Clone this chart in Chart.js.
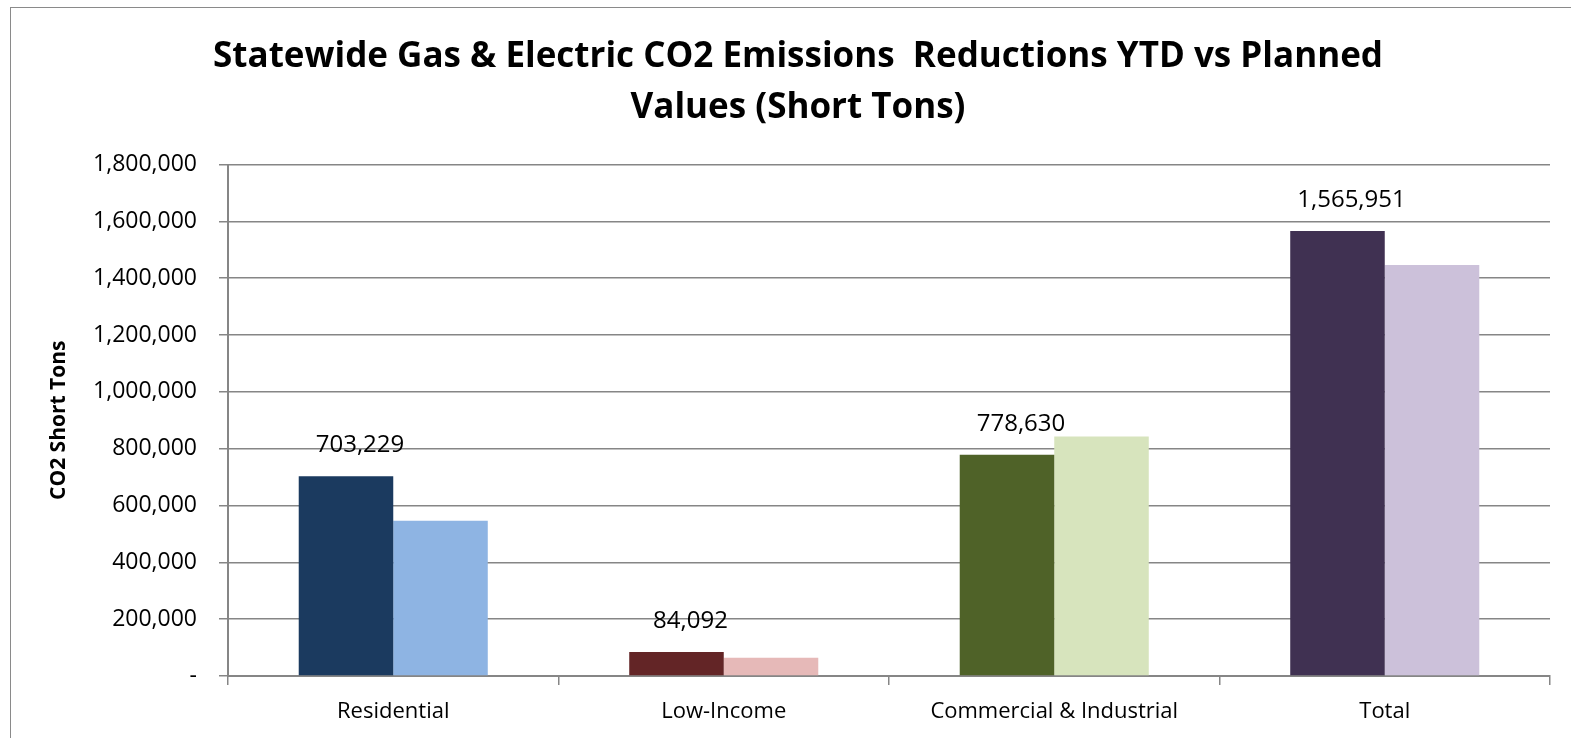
<!DOCTYPE html>
<html>
<head>
<meta charset="utf-8">
<script src="https://cdn.jsdelivr.net/npm/chart.js@4.4.0/dist/chart.umd.min.js"></script>
<style>
  html, body { margin: 0; padding: 0; background: #fff; overflow: hidden; }
  #wrap { position: relative; width: 1571px; height: 738px; }
  #frame { position: absolute; left: 10px; top: 7px; width: 2000px; height: 2000px;
           border: 1.5px solid #8a8a8a; pointer-events: none; }
  canvas { position: absolute; left: 0; top: 0; }
</style>
</head>
<body>
<div id="wrap">
  <div id="frame"></div>
  <canvas id="co2Chart" width="1571" height="738"></canvas>
</div>
<script>
// データ
var categories = ["Residential", "Low-Income", "Commercial & Industrial", "Total"];
var ytdValues = [703229, 84092, 778630, 1565951];
var plannedValues = [546000, 64000, 843000, 1446000];
var ytdColors = ["#1B3A5F", "#632526", "#4F6228", "#403152"];
var plannedColors = ["#8EB4E3", "#E6B9B8", "#D7E4BD", "#CCC1DA"];

var FONT = "'Open Sans', 'DejaVu Sans', sans-serif";

// YTDの棒の上に数値を表示するプラグイン
var valueLabelPlugin = {
  id: "valueLabels",
  afterDatasetsDraw: function (chart) {
    var ctx = chart.ctx;
    var meta = chart.getDatasetMeta(0);
    ctx.save();
    ctx.fillStyle = "#000";
    ctx.font = "24px " + FONT;
    ctx.textAlign = "center";
    ctx.textBaseline = "middle";
    meta.data.forEach(function (bar, i) {
      var txt = ytdValues[i].toLocaleString("en-US");
      ctx.fillText(txt, bar.x + 14, bar.y - 31);
    });
    ctx.restore();
  }
};

var ctx = document.getElementById("co2Chart");
var co2Chart = new Chart(ctx, {
  type: "bar",
  data: {
    labels: categories,
    datasets: [
      { label: "YTD", data: ytdValues, backgroundColor: ytdColors },
      { label: "Planned", data: plannedValues, backgroundColor: plannedColors }
    ]
  },
  options: {
    responsive: false,
    animation: false,
    layout: { padding: { left: 46, right: 21, top: 0, bottom: 0 } },
    datasets: { bar: { barPercentage: 1.0, categoryPercentage: 0.572 } },
    plugins: {
      legend: { display: false },
      tooltip: { enabled: false },
      title: {
        display: true,
        text: ["Statewide Gas & Electric CO2 Emissions  Reductions YTD vs Planned", "Values (Short Tons)"],
        color: "#000",
        font: { family: FONT, size: 35, weight: "bold", lineHeight: 1.45 },
        padding: { top: 32, bottom: 31 }
      }
    },
    scales: {
      x: {
        offset: true,
        afterFit: function (scale) { scale.height = 62; },
        grid: {
          offset: true,
          drawOnChartArea: false,
          drawTicks: true,
          tickLength: 9,
          color: "#868686",
          lineWidth: 1.5
        },
        border: { color: "#868686", width: 2 },
        ticks: {
          color: "#000",
          font: { family: FONT, size: 22 },
          padding: 14
        }
      },
      y: {
        min: 0,
        max: 1800000,
        afterFit: function (scale) { scale.width = 228 - 46; },
        ticks: {
          stepSize: 200000,
          color: "#000",
          font: { family: FONT, size: 23 },
          padding: 22,
          callback: function (v) {
            return v === 0 ? "-" : v.toLocaleString("en-US");
          }
        },
        grid: { color: "#868686", lineWidth: 1.5, tickLength: 9 },
        border: { color: "#868686", width: 2 },
        title: {
          display: true,
          text: "CO2 Short Tons",
          color: "#000",
          font: { family: FONT, size: 21, weight: "bold" },
          padding: 0
        }
      }
    }
  },
  plugins: [valueLabelPlugin]
});
</script>
</body>
</html>
